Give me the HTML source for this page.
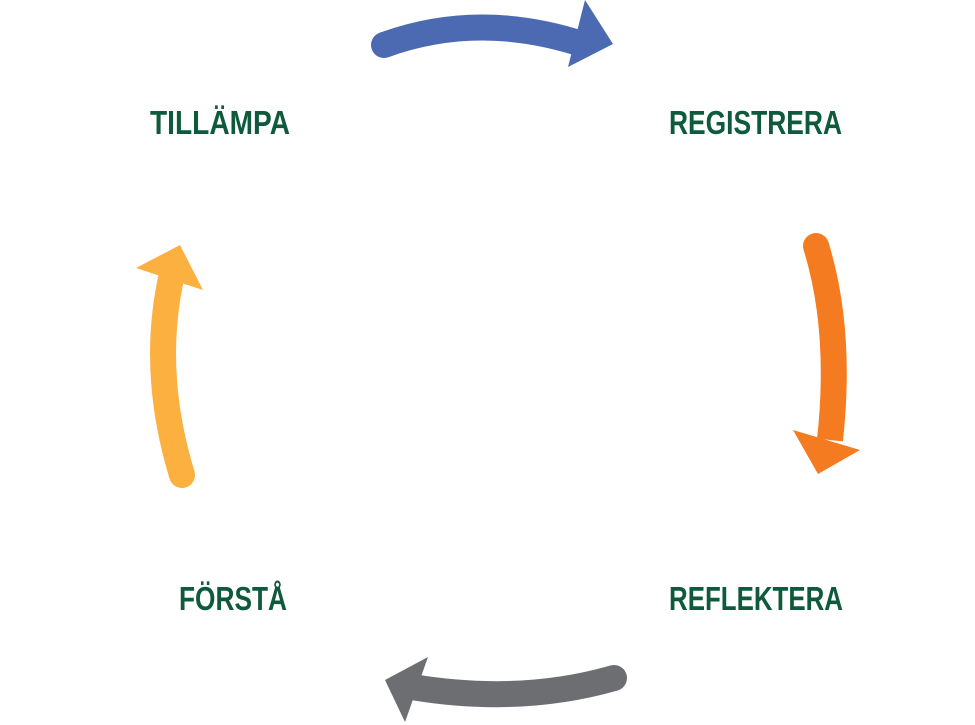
<!DOCTYPE html>
<html><head><style>html,body{margin:0;padding:0;background:#fff}svg{display:block}</style></head>
<body>
<svg width="975" height="725" viewBox="0 0 975 725" xmlns="http://www.w3.org/2000/svg">
<g fill="none" stroke-linecap="butt" stroke-width="26">
<path d="M384,45 Q480,10 585,45" stroke="#4b6ab2"/>
<path d="M816,246 Q842,330 830,440" stroke="#f47b20"/>
<path d="M614,678 Q520,705 412,687" stroke="#6d6e71"/>
<path d="M182,475 Q150,370 172,274" stroke="#fbb040"/>
</g>
<circle cx="384" cy="45" r="13" fill="#4b6ab2"/>
<circle cx="816" cy="246" r="13" fill="#f47b20"/>
<circle cx="614" cy="678" r="13" fill="#6d6e71"/>
<circle cx="182" cy="475" r="13" fill="#fbb040"/>
<polygon points="585,0 613,44 568,67" fill="#4b6ab2"/>
<polygon points="793,430 860,450 818,474" fill="#f47b20"/>
<polygon points="428,657 405,722 385,680" fill="#6d6e71"/>
<polygon points="136,268 180,245 203,290" fill="#fbb040"/>
<g font-family="'Liberation Sans Narrow','Liberation Sans',sans-serif" font-weight="bold" font-size="33" fill="#0f5a3c">
<text x="150" y="134" textLength="140" lengthAdjust="spacingAndGlyphs">TILLÄMPA</text>
<text x="669" y="134" textLength="173" lengthAdjust="spacingAndGlyphs">REGISTRERA</text>
<text x="179" y="610" textLength="108" lengthAdjust="spacingAndGlyphs">FÖRSTÅ</text>
<text x="669" y="610" textLength="174" lengthAdjust="spacingAndGlyphs">REFLEKTERA</text>
</g>
</svg>
</body></html>
